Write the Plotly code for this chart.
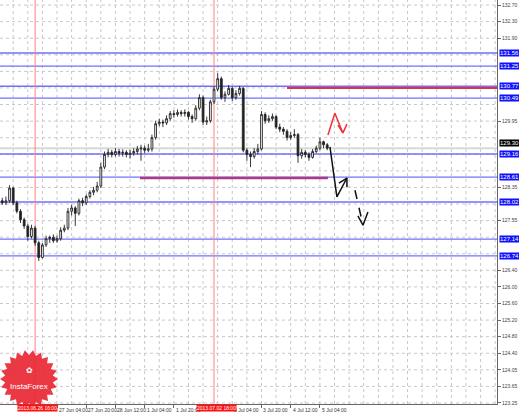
import numpy as np
import plotly.graph_objects as go

# ---- data (hours since 25 Jun 20:00, 2-hour bars) ----
t_hours = list(range(2, 182, 2))
opens = [128.05,128.00,128.05,128.35,128.00,127.80,127.60,127.45,127.20,127.40,
         127.05,126.70,127.00,127.15,127.18,127.10,127.15,127.35,127.40,127.80,
         127.88,127.75,128.05,128.00,128.15,128.25,128.30,128.40,128.85,129.15,
         129.20,129.15,129.22,129.18,129.20,129.15,129.18,129.22,129.28,129.30,
         129.25,129.28,129.55,129.88,129.92,129.90,130.00,130.12,130.10,130.15,
         130.12,130.15,130.05,130.00,130.25,130.50,129.92,129.95,130.40,130.70,
         130.95,130.50,130.58,130.72,130.50,130.60,130.72,129.25,129.15,129.10,
         129.22,129.28,130.10,129.95,130.00,130.05,129.80,129.75,129.70,129.55,
         129.60,129.62,129.12,129.20,129.15,129.08,129.22,129.30,129.45,129.38]
closes = [128.00,128.05,128.35,128.00,127.80,127.60,127.45,127.20,127.40,127.05,
          126.70,127.00,127.15,127.18,127.10,127.15,127.35,127.40,127.80,127.88,
          127.75,128.05,128.00,128.15,128.25,128.30,128.40,128.85,129.15,129.20,
          129.15,129.22,129.18,129.20,129.15,129.18,129.22,129.28,129.30,129.25,
          129.28,129.55,129.88,129.92,129.90,130.00,130.12,130.10,130.15,130.12,
          130.15,130.05,130.00,130.25,130.50,129.92,129.95,130.40,130.70,130.95,
          130.50,130.58,130.72,130.50,130.60,130.72,129.25,129.15,129.10,129.22,
          129.28,130.10,129.95,130.00,130.05,129.80,129.75,129.70,129.55,129.60,
          129.62,129.12,129.20,129.15,129.08,129.22,129.30,129.45,129.38,129.30]
highs = [128.12,128.15,128.42,128.38,128.05,127.85,127.65,127.50,127.48,127.45,
         127.10,127.05,127.22,127.22,127.25,127.22,127.42,127.48,127.88,127.95,
         127.92,128.10,128.12,128.20,128.30,128.38,128.50,128.95,129.22,129.28,
         129.26,129.30,129.28,129.27,129.25,129.26,129.30,129.35,129.38,129.36,
         129.40,129.62,129.95,130.00,129.98,130.08,130.18,130.20,130.22,130.20,
         130.22,130.18,130.10,130.32,130.58,130.55,130.05,130.45,130.78,131.08,
         131.00,130.65,130.80,130.76,130.68,130.78,130.75,129.30,129.22,129.30,
         129.40,130.18,130.15,130.08,130.12,130.08,129.88,129.80,129.75,129.68,
         129.75,129.66,129.28,129.25,129.20,129.28,129.36,129.55,129.48,129.42]
lows = [127.95,127.95,128.00,127.95,127.75,127.52,127.38,127.10,127.15,126.98,
        126.62,126.68,126.95,127.05,127.05,127.05,127.10,127.30,127.35,127.70,
        127.45,127.70,127.92,127.95,128.10,128.18,128.25,128.35,128.80,129.08,
        129.08,129.10,129.10,129.10,129.08,129.05,129.12,129.15,129.00,129.18,
        129.20,129.22,129.50,129.82,129.80,129.85,129.95,130.02,130.05,130.05,
        130.05,129.98,129.90,129.95,130.20,129.85,129.85,129.90,130.35,130.65,
        130.45,130.40,130.55,130.42,130.45,130.55,129.20,129.00,128.85,129.05,
        129.15,129.25,129.88,129.90,129.95,129.75,129.68,129.62,129.48,129.50,
        129.55,128.95,129.05,129.08,129.00,129.05,129.18,129.25,129.30,129.25]

# levels
blue_levels = [131.56, 131.25, 130.77, 130.49, 129.16, 128.61, 128.02, 127.14, 126.74]
current_price = 129.30
red_level = 130.73
red_level_start = 158
purple_level = 128.59
purple_span = [77.4, 180.4]
vlines_t = [20, 118]
vline_labels = ["2013.06.26 16:00", "2013.07.02 18:00"]

# price axis ticks
y_ticks = [132.70,132.30,131.90,131.50,131.15,130.75,130.35,129.95,129.55,129.15,
           128.75,128.35,127.95,127.55,127.20,126.80,126.40,126.00,125.60,125.20,
           124.80,124.40,124.05,123.65,123.25]

# time axis labels
x_label_t = [0, 32, 48, 64, 80, 96, 128, 144, 160, 176]
x_labels = ["25 Jun 20:00", "27 Jun 04:00", "27 Jun 20:00", "28 Jun 12:00", "1 Jul 04:00",
            "1 Jul 20:00", "3 Jul 04:00", "3 Jul 20:00", "4 Jul 12:00", "5 Jul 04:00"]

# forecast arrows (hours, price)
red_path_t = [180.4, 184.2, 188.6]
red_path_p = [129.61, 130.13, 129.66]
red_head_t = [185.9, 188.6, 190.8]
red_head_p = [129.85, 129.66, 129.87]
blk_path_t = [181.5, 185.3, 190.8]
blk_path_p = [129.33, 128.14, 128.59]
blk_head_t = [186.4, 190.8, 190.8]
blk_head_p = [128.47, 128.59, 128.37]
dash_path_t = [195.2, 199.6]
dash_path_p = [128.30, 127.47]
dash_head_t = [196.8, 199.6, 202.3]
dash_head_p = [127.69, 127.47, 127.78]

X0, X1 = 0.77, 273.0
Y0, Y1 = 123.22, 132.82

y_tick_pos = [132.70 - i * 0.394 for i in range(len(y_ticks))]
marked = blue_levels + [current_price + 0.12]
vis_pos, vis_txt = [], []
for p, v in zip(y_tick_pos, y_ticks):
    if min(abs(p - m) for m in marked) > 0.17:
        vis_pos.append(p)
        vis_txt.append(f"{v:.2f}")

fig = go.Figure()

GRID = "#c8c8c8"
shapes = []
for g in range(0, 276, 8):
    shapes.append(dict(type="line", xref="x", yref="paper", x0=g, x1=g, y0=0, y1=1,
                       line=dict(color=GRID, width=1, dash="dot"), layer="below"))
for yp in y_tick_pos:
    shapes.append(dict(type="line", xref="paper", yref="y", x0=0, x1=1, y0=yp, y1=yp,
                       line=dict(color=GRID, width=1, dash="dot"), layer="below"))
shapes.append(dict(type="line", xref="paper", yref="y", x0=0, x1=1, y0=current_price, y1=current_price,
                   line=dict(color="#d8d8d8", width=2), layer="below"))
for b in blue_levels:
    shapes.append(dict(type="line", xref="paper", yref="y", x0=0, x1=1, y0=b, y1=b,
                       line=dict(color="#7070ff", width=1.3), layer="below"))
for v in vlines_t:
    shapes.append(dict(type="line", xref="x", yref="paper", x0=v, x1=v, y0=0, y1=1,
                       line=dict(color="#ff8080", width=1), layer="below"))
shapes.append(dict(type="line", xref="x", yref="y", x0=red_level_start, x1=X1, y0=red_level, y1=red_level,
                   line=dict(color="#e03040", width=2), layer="above"))
shapes.append(dict(type="line", xref="x", yref="y", x0=purple_span[0], x1=purple_span[1],
                   y0=purple_level, y1=purple_level, line=dict(color="#b03a80", width=2.5), layer="above"))

# InstaForex logo starburst (decoration)
r_out, r_in, n = 29, 24, 22
pts = []
for k in range(2 * n):
    ang = np.pi * k / n
    rr = r_out if k % 2 == 0 else r_in
    px = 29 + rr * np.cos(ang)
    py = 379 + rr * np.sin(ang)
    pts.append((px / 497, 1 - py / 404))
path = "M " + " L ".join(f"{a:.4f},{b:.4f}" for a, b in pts) + " Z"
shapes.append(dict(type="path", xref="paper", yref="paper", path=path,
                   fillcolor="rgba(232,40,52,0.92)", line=dict(width=0), layer="above"))

fig.add_trace(go.Candlestick(
    x=t_hours, open=opens, high=highs, low=lows, close=closes,
    increasing=dict(line=dict(color="#222222", width=0.9), fillcolor="#ffffff"),
    decreasing=dict(line=dict(color="#222222", width=0.9), fillcolor="#222222"),
    whiskerwidth=0, showlegend=False, hoverinfo="skip"))

for tt, pp in [(red_path_t, red_path_p), (red_head_t, red_head_p)]:
    fig.add_trace(go.Scatter(x=tt, y=pp, mode="lines", line=dict(color="#f03038", width=1.5),
                             showlegend=False, hoverinfo="skip"))
for tt, pp, dash in [(blk_path_t, blk_path_p, "solid"), (blk_head_t, blk_head_p, "solid"),
                     (dash_path_t, dash_path_p, "dash"), (dash_head_t, dash_head_p, "solid")]:
    fig.add_trace(go.Scatter(x=tt, y=pp, mode="lines", line=dict(color="#111111", width=1.5, dash=dash),
                             showlegend=False, hoverinfo="skip"))

ann = []
FONT = "Liberation Sans, Arial, sans-serif"
for tt, lab in zip(x_label_t, x_labels):
    ann.append(dict(x=tt, y=0, xref="x", yref="paper", yshift=-1, xshift=(-7 if tt == 0 else 0),
                    text=lab, showarrow=False, xanchor="left", yanchor="top",
                    font=dict(size=5, color="#333333", family=FONT)))
for v, lab in zip(vlines_t, vline_labels):
    ann.append(dict(x=v, y=0, xref="x", yref="paper", xshift=2, text=lab, showarrow=False,
                    xanchor="center", yanchor="top", bgcolor="#ff1010", borderpad=0,
                    font=dict(size=5, color="#ffffff", family=FONT)))
for b in blue_levels:
    ann.append(dict(x=1, y=b, xref="paper", yref="y", xshift=2, text=f"{b:.2f}", showarrow=False,
                    xanchor="left", yanchor="middle", bgcolor="#1010ff", borderpad=0,
                    font=dict(size=6, color="#ffffff", family=FONT)))
ann.append(dict(x=1, y=current_price + 0.12, xref="paper", yref="y", xshift=2, text=f"{current_price:.2f}",
                showarrow=False, xanchor="left", yanchor="middle", bgcolor="#000000", borderpad=0,
                font=dict(size=6, color="#ffffff", family=FONT)))
ann.append(dict(x=29 / 497, y=1 - 386 / 404, xref="paper", yref="paper", text="InstaForex",
                showarrow=False, xanchor="center", yanchor="middle",
                font=dict(size=8, color="#ffffff", family=FONT)))
ann.append(dict(x=29 / 497, y=1 - 370 / 404, xref="paper", yref="paper", text="✿",
                showarrow=False, xanchor="center", yanchor="middle",
                font=dict(size=8, color="#ffffff", family="DejaVu Sans")))

fig.update_layout(
    width=519, height=414,
    margin=dict(l=0, r=22, t=0, b=10),
    paper_bgcolor="#ffffff", plot_bgcolor="#ffffff",
    shapes=shapes, annotations=ann,
    xaxis=dict(range=[X0, X1], showgrid=False, zeroline=False, rangeslider=dict(visible=False),
               tickvals=x_label_t, showticklabels=False, ticks="outside", ticklen=3,
               tickcolor="#666666", showline=True, linecolor="#666666", linewidth=1, fixedrange=True),
    yaxis=dict(range=[Y0, Y1], side="right", showgrid=False, zeroline=False,
               tickvals=vis_pos, ticktext=vis_txt,
               ticks="outside", ticklen=3, tickcolor="#666666",
               tickfont=dict(size=5, color="#444444", family=FONT),
               showline=True, linecolor="#666666", linewidth=1, fixedrange=True),
)

fig.write_html("out.html", config={"displayModeBar": False},
               post_script="document.body.style.margin='0';document.body.style.overflow='hidden';")
